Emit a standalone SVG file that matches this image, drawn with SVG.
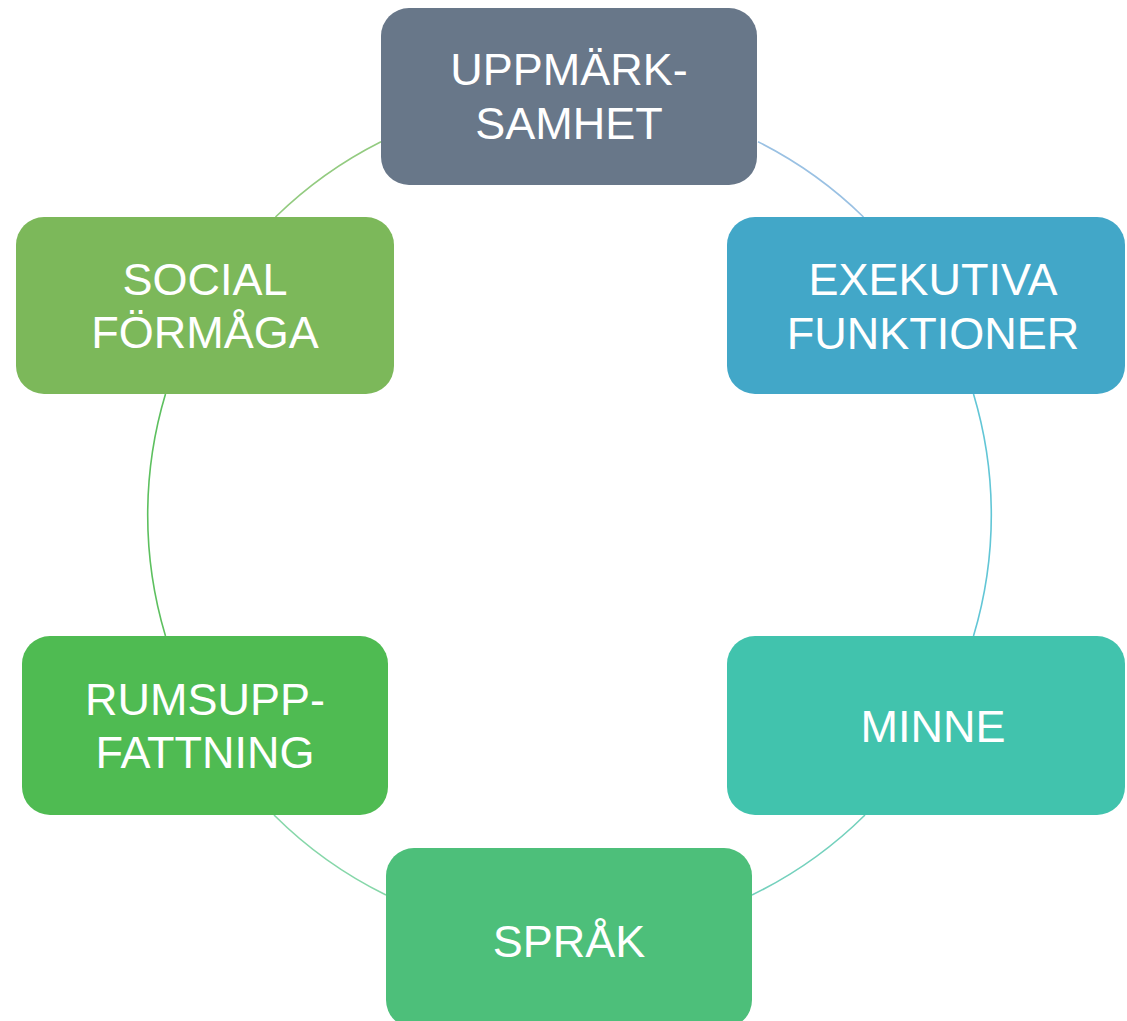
<svg xmlns="http://www.w3.org/2000/svg" width="1127" height="1021" viewBox="0 0 1127 1021">
  <style>
    .conn { fill: none; stroke-width: 1.6; }
    .lbl { font-family: "Liberation Sans", Arial, sans-serif; font-size: 45px; fill: #ffffff; text-anchor: middle; }
  </style>
  <rect x="0" y="0" width="1127" height="1021" fill="#ffffff"/>
  <g id="connectors">
    <path class="conn" stroke="#9ac1e3" d="M 758 141.7 A 420 420 0 0 1 863.5 217"/>
    <path class="conn" stroke="#62c6d6" d="M 973.5 394 A 420 420 0 0 1 973.5 636"/>
    <path class="conn" stroke="#74d1bd" d="M 865 815 A 420 420 0 0 1 752 895"/>
    <path class="conn" stroke="#86d7a9" d="M 386 895 A 420 420 0 0 1 274 815"/>
    <path class="conn" stroke="#5dc05f" d="M 165.5 636 A 420 420 0 0 1 165.5 394"/>
    <path class="conn" stroke="#93cb80" d="M 275.5 217 A 420 420 0 0 1 381 141.7"/>
  </g>
  <g id="node-uppmarksamhet">
    <rect x="381" y="8" width="376" height="177" rx="28" fill="#687789"/>
    <text class="lbl" x="569" y="85">UPPMÄRK-</text>
    <text class="lbl" x="569" y="139">SAMHET</text>
  </g>
  <g id="node-exekutiva">
    <rect x="727" y="217" width="398" height="177" rx="28" fill="#42a7c8"/>
    <text class="lbl" x="933" y="295">EXEKUTIVA</text>
    <text class="lbl" x="933" y="349">FUNKTIONER</text>
  </g>
  <g id="node-minne">
    <rect x="727" y="636" width="398" height="179" rx="28" fill="#41c3ad"/>
    <text class="lbl" x="933" y="742">MINNE</text>
  </g>
  <g id="node-sprak">
    <rect x="386" y="848" width="366" height="180" rx="28" fill="#4dbf7a"/>
    <text class="lbl" x="569" y="957">SPRÅK</text>
  </g>
  <g id="node-rumsuppfattning">
    <rect x="22" y="636" width="366" height="179" rx="28" fill="#4fbb52"/>
    <text class="lbl" x="205" y="715">RUMSUPP-</text>
    <text class="lbl" x="205" y="768">FATTNING</text>
  </g>
  <g id="node-social">
    <rect x="16" y="217" width="378" height="177" rx="28" fill="#7cb85a"/>
    <text class="lbl" x="205" y="295">SOCIAL</text>
    <text class="lbl" x="205" y="348">FÖRMÅGA</text>
  </g>
</svg>
